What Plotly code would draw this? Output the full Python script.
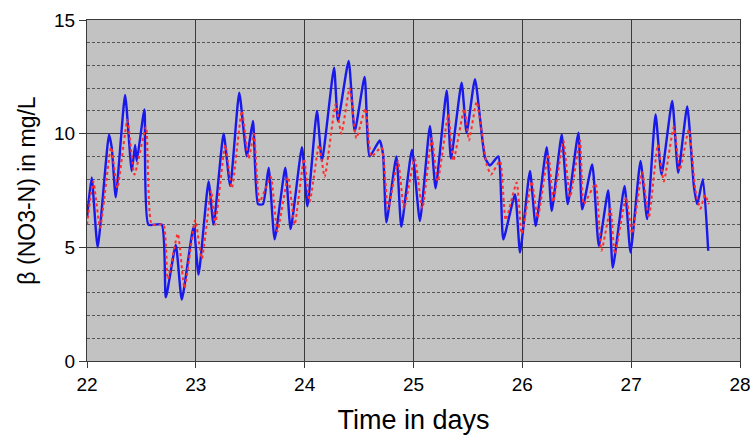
import plotly.graph_objects as go

# Measured (blue, solid)
blue_t = [22.000, 22.043, 22.098, 22.202, 22.227, 22.264, 22.350, 22.411, 22.442, 22.457,
          22.528, 22.564, 22.687, 22.724, 22.816, 22.871, 22.979, 23.025, 23.117, 23.163,
          23.255, 23.316, 23.399, 23.469, 23.525, 23.571, 23.617, 23.669, 23.724, 23.822,
          23.871, 23.975, 24.025, 24.113, 24.159, 24.270, 24.306, 24.404, 24.460, 24.551,
          24.597, 24.689, 24.720, 24.751, 24.843, 24.888, 24.986, 25.059, 25.151, 25.203,
          25.305, 25.344, 25.442, 25.488, 25.565, 25.657, 25.703, 25.779, 25.825, 25.933,
          25.979, 26.070, 26.123, 26.224, 26.270, 26.362, 26.417, 26.515, 26.550, 26.642,
          26.703, 26.789, 26.831, 26.939, 26.994, 27.086, 27.147, 27.224, 27.279, 27.377,
          27.432, 27.515, 27.576, 27.607, 27.659, 27.708]
blue_v = [6.3, 8.07, 5.0, 9.95, 9.4, 7.2, 11.7, 8.35, 9.5, 8.8,
          11.07, 6.0, 6.0, 2.8, 5.1, 2.7, 5.9, 3.8, 7.9, 6.0,
          10.0, 7.7, 11.8, 9.0, 10.56, 6.9, 6.9, 8.5, 5.35, 8.5,
          5.8, 9.4, 6.8, 11.0, 8.8, 12.9, 10.56, 13.2, 10.1, 12.5,
          9.0, 9.7, 9.1, 6.1, 9.0, 5.9, 9.3, 6.16, 10.34, 7.6,
          11.9, 8.9, 12.24, 10.04, 12.4, 8.94, 8.6, 9.0, 5.35, 7.33,
          4.77, 8.36, 5.94, 9.41, 6.6, 9.97, 6.9, 10.04, 6.67, 8.65,
          5.06, 7.5, 4.1, 7.7, 4.77, 8.8, 6.24, 10.85, 8.2, 11.44,
          8.28, 11.2, 7.7, 6.9, 8.0, 4.85]

# Simulated (red, dashed)
red_t = [22.000, 22.058, 22.120, 22.221, 22.279, 22.371, 22.436, 22.543, 22.595, 22.702,
         22.742, 22.834, 22.896, 22.994, 23.055, 23.141, 23.178, 23.270, 23.331, 23.423,
         23.485, 23.534, 23.586, 23.688, 23.749, 23.847, 23.908, 23.994, 24.046, 24.132,
         24.184, 24.285, 24.337, 24.414, 24.475, 24.558, 24.613, 24.705, 24.766, 24.858,
         24.913, 25.011, 25.081, 25.167, 25.222, 25.320, 25.366, 25.467, 25.510, 25.580,
         25.672, 25.712, 25.795, 25.847, 25.948, 25.994, 26.086, 26.141, 26.239, 26.285,
         26.377, 26.438, 26.530, 26.565, 26.672, 26.727, 26.810, 26.850, 26.954, 27.009,
         27.101, 27.162, 27.245, 27.300, 27.392, 27.447, 27.530, 27.591, 27.637, 27.677,
         27.714]
red_v = [6.0, 7.9, 5.86, 9.4, 7.6, 10.6, 8.2, 10.3, 6.0, 6.0,
         3.6, 5.6, 3.2, 6.2, 4.5, 7.5, 6.0, 9.5, 7.6, 11.0,
         8.9, 10.0, 7.0, 8.1, 5.7, 8.1, 6.0, 8.9, 7.0, 9.5,
         8.1, 11.3, 10.0, 12.0, 9.8, 11.1, 9.0, 9.4, 6.7, 8.8,
         6.7, 8.9, 6.7, 9.8, 7.9, 10.85, 8.8, 11.1, 9.7, 11.4,
         8.65, 8.2, 8.8, 6.2, 7.85, 5.6, 7.9, 6.3, 9.1, 7.0,
         9.7, 7.2, 9.7, 6.9, 7.8, 4.85, 6.7, 4.7, 7.2, 5.6,
         8.3, 6.3, 9.5, 7.9, 10.3, 8.4, 10.2, 7.5, 6.7, 7.3,
         6.9]

x_ticks = [22, 23, 24, 25, 26, 27, 28]
y_ticks = [0, 5, 10, 15]

fig = go.Figure()
fig.add_trace(go.Scatter(x=blue_t, y=blue_v, mode="lines",
                         line=dict(color="rgb(25,25,235)", width=2.4,
                                   shape="spline", smoothing=0.5)))
fig.add_trace(go.Scatter(x=red_t, y=red_v, mode="lines",
                         line=dict(color="rgb(255,45,45)", width=2, dash="3px,3px",
                                   shape="spline", smoothing=0.5)))

fig.update_layout(
    width=751, height=435,
    margin=dict(l=87, r=11, t=20, b=74),
    paper_bgcolor="white", plot_bgcolor="#c2c2c2",
    showlegend=False,
    font=dict(family="Liberation Sans, Arial, sans-serif", color="black"),
    xaxis=dict(range=[22, 28], tickvals=x_ticks, ticktext=[str(v) for v in x_ticks],
               automargin=False,
               showgrid=True, gridcolor="#3a3a3a", gridwidth=1,
               showline=True, linecolor="#3a3a3a", linewidth=1, mirror=True,
               ticks="outside", ticklen=6, tickcolor="#3a3a3a",
               tickfont=dict(size=19), zeroline=False,
               title=dict(text="Time in days", font=dict(size=27), standoff=16)),
    yaxis=dict(range=[0, 15], tickvals=y_ticks, ticktext=[str(v) for v in y_ticks],
               automargin=False,
               showgrid=True, gridcolor="#3a3a3a", gridwidth=1,
               showline=True, linecolor="#3a3a3a", linewidth=1, mirror=True,
               ticks="outside", ticklen=7, tickcolor="#3a3a3a",
               tickfont=dict(size=19), zeroline=False,
               minor=dict(dtick=1, showgrid=True, gridcolor="#555555",
                          griddash="3px,2px", gridwidth=1),
               title=dict(text="β (NO3-N) in mg/L", font=dict(size=23), standoff=12)),
)

fig.write_html("out.html")
